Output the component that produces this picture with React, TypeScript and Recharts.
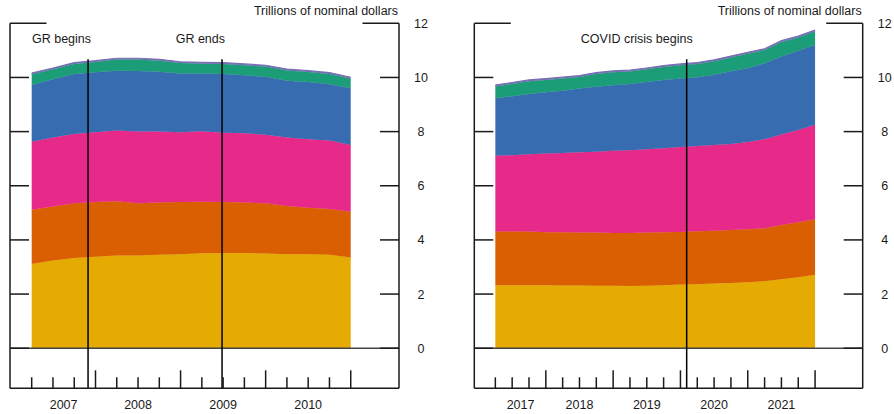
import React from 'react';
import { AreaChart, Area, XAxis, YAxis, ReferenceLine } from 'recharts';

// ---------- data ----------
const leftQuarters = [
  '2007Q1', '2007Q2', '2007Q3', '2007Q4',
  '2008Q1', '2008Q2', '2008Q3', '2008Q4',
  '2009Q1', '2009Q2', '2009Q3', '2009Q4',
  '2010Q1', '2010Q2', '2010Q3', '2010Q4',
];
const leftYellow = [3.11, 3.24, 3.33, 3.38, 3.42, 3.42, 3.45, 3.47, 3.51, 3.52, 3.52, 3.5, 3.47, 3.47, 3.45, 3.35];
const leftOrange = [2.0, 1.99, 2.02, 2.02, 2.01, 1.93, 1.93, 1.93, 1.9, 1.88, 1.86, 1.85, 1.78, 1.72, 1.69, 1.69];
const leftPink = [2.52, 2.55, 2.56, 2.58, 2.61, 2.65, 2.62, 2.58, 2.6, 2.56, 2.56, 2.53, 2.53, 2.53, 2.53, 2.47];
const leftBlue = [2.09, 2.15, 2.22, 2.21, 2.21, 2.24, 2.21, 2.17, 2.14, 2.17, 2.14, 2.15, 2.1, 2.11, 2.08, 2.09];
const leftGreen = [0.39, 0.37, 0.37, 0.38, 0.41, 0.42, 0.41, 0.38, 0.36, 0.37, 0.37, 0.37, 0.38, 0.37, 0.38, 0.35];
const leftPurple = [0.05, 0.05, 0.05, 0.05, 0.05, 0.05, 0.05, 0.05, 0.05, 0.05, 0.05, 0.05, 0.05, 0.05, 0.05, 0.05];

const rightQuarters = [
  '2017Q1', '2017Q2', '2017Q3', '2017Q4',
  '2018Q1', '2018Q2', '2018Q3', '2018Q4',
  '2019Q1', '2019Q2', '2019Q3', '2019Q4',
  '2020Q1', '2020Q2', '2020Q3', '2020Q4',
  '2021Q1', '2021Q2', '2021Q3', '2021Q4',
];
const rightYellow = [2.33, 2.33, 2.33, 2.33, 2.32, 2.32, 2.31, 2.31, 2.3, 2.31, 2.33, 2.35, 2.36, 2.39, 2.41, 2.44, 2.47, 2.55, 2.62, 2.71];
const rightOrange = [1.98, 1.98, 1.98, 1.95, 1.96, 1.95, 1.96, 1.95, 1.96, 1.96, 1.95, 1.94, 1.96, 1.95, 1.96, 1.95, 1.96, 2.0, 2.03, 2.05];
const rightPink = [2.8, 2.82, 2.85, 2.91, 2.93, 2.97, 2.99, 3.03, 3.05, 3.08, 3.11, 3.14, 3.15, 3.17, 3.17, 3.23, 3.29, 3.34, 3.41, 3.49];
const rightBlue = [2.12, 2.18, 2.23, 2.26, 2.3, 2.35, 2.4, 2.42, 2.45, 2.48, 2.52, 2.53, 2.54, 2.59, 2.69, 2.72, 2.8, 2.88, 2.93, 2.95];
const rightGreen = [0.44, 0.45, 0.47, 0.46, 0.45, 0.43, 0.47, 0.48, 0.46, 0.47, 0.48, 0.49, 0.49, 0.5, 0.51, 0.54, 0.49, 0.54, 0.49, 0.5];
const rightPurple = [0.05, 0.05, 0.05, 0.05, 0.05, 0.05, 0.05, 0.05, 0.05, 0.05, 0.05, 0.05, 0.05, 0.05, 0.05, 0.05, 0.05, 0.05, 0.05, 0.05];

// events: position in quarter-index units
const leftEvents = [
  { label: 'GR begins', x: 2.65 },
  { label: 'GR ends', x: 8.95 },
];
const rightEvents = [{ label: 'COVID crisis begins', x: 11.37 }];

const yTicks = [0, 2, 4, 6, 8, 10, 12];
const unitsLabel = 'Trillions of nominal dollars';

// ---------- styling ----------
const FONT = '"Liberation Sans", Arial, sans-serif';
const FS = 12.5;
const INK = '#1a1a1a';
const series = [
  { key: 'yellow', color: '#E6AB02' },
  { key: 'orange', color: '#D95F02' },
  { key: 'pink', color: '#E7298A' },
  { key: 'blue', color: '#386CB0' },
  { key: 'green', color: '#1B9E77' },
  { key: 'purple', color: '#7570B3' },
];
const Y_MIN = -1.48;
const Y_MAX = 12;
const EVENT_TOP = 10.67;

function buildData(quarters: string[], cols: Record<string, number[]>) {
  return quarters.map((q, i) => {
    const row: any = { i, q };
    Object.keys(cols).forEach((k) => (row[k] = cols[k][i]));
    return row;
  });
}

const leftData = buildData(leftQuarters, {
  yellow: leftYellow, orange: leftOrange, pink: leftPink,
  blue: leftBlue, green: leftGreen, purple: leftPurple,
});
const rightData = buildData(rightQuarters, {
  yellow: rightYellow, orange: rightOrange, pink: rightPink,
  blue: rightBlue, green: rightGreen, purple: rightPurple,
});

function yearCenters(quarters: string[]) {
  const years: string[] = [];
  quarters.forEach((q) => {
    const y = q.slice(0, 4);
    if (!years.includes(y)) years.push(y);
  });
  return years.map((y) => {
    const idx = quarters.map((q, i) => (q.startsWith(y) ? i : -1)).filter((i) => i >= 0);
    const a = idx[0];
    const b = idx[idx.length - 1];
    const start = a === 0 ? 0 : a - 1;
    return { year: y, pos: (start + b) / 2 };
  });
}

type PanelProps = {
  data: any[];
  quarters: string[];
  events: { label: string; x: number }[];
  left: number;
  width: number;
  box: { top: number; left: number; right: number; bottom: number };
  xDomain: [number, number];
  labelDx: number;
};

function Panel({ data, quarters, events, left, width, box, xDomain, labelDx }: PanelProps) {
  const height = 414;
  // plot box edges: box.left .. width - box.right, box.top .. height - box.bottom
  const margin = { top: box.top, left: box.left - 1, right: box.right - 1, bottom: box.bottom - 2 };
  const plotWidth = width - box.left - box.right;
  const majors = new Set(quarters.map((q, i) => (q.endsWith('Q4') ? i : -1)).filter((i) => i >= 0));
  const qTicks = quarters.map((_, i) => i);
  const years = yearCenters(quarters);
  const yearMap = new Map(years.map((y) => [y.pos, y.year]));

  const YTick = (props: any) => {
    const { x, y, payload } = props;
    const v = payload.value;
    const len = v === 12 ? 36.5 : 19;
    return (
      <g>
        <line x1={x - len} x2={x} y1={y} y2={y} stroke={INK} strokeWidth={1.5} />
        <line x1={x - plotWidth} x2={x - plotWidth + len} y1={y} y2={y} stroke={INK} strokeWidth={1.5} />
        <text x={x + 22} y={y} dy="0.36em" textAnchor="middle" fontFamily={FONT} fontSize={FS} fill={INK}>
          {v}
        </text>
      </g>
    );
  };

  const XTick = (props: any) => {
    const { x, y, payload } = props;
    const len = majors.has(payload.value) ? 18 : 11;
    return <line x1={x} x2={x} y1={y} y2={y - len} stroke={INK} strokeWidth={1.5} />;
  };

  const YearTick = (props: any) => {
    const { x, y, payload } = props;
    return (
      <text x={x} y={y} dy={20} textAnchor="middle" fontFamily={FONT} fontSize={FS} fill={INK}>
        {yearMap.get(payload.value)}
      </text>
    );
  };

  return (
    <div style={{ position: 'absolute', left, top: 0, width, height }}>
      <div
        style={{
          position: 'absolute',
          left: 0,
          top: 4,
          width: width - box.right - 1,
          textAlign: 'right',
          fontFamily: FONT,
          fontSize: FS,
          lineHeight: '15px',
          color: INK,
          whiteSpace: 'nowrap',
        }}
      >
        {unitsLabel}
      </div>
      <AreaChart width={width} height={height} data={data} margin={margin}>
        <XAxis
          xAxisId="t"
          dataKey="i"
          type="number"
          domain={xDomain}
          allowDataOverflow
          ticks={qTicks}
          interval={0}
          height={1}
          tickSize={0}
          tickMargin={0}
          tick={XTick}
          tickLine={false}
          axisLine={{ stroke: INK, strokeWidth: 1.5 }}
        />
        <XAxis
          xAxisId="y"
          dataKey="i"
          type="number"
          domain={xDomain}
          allowDataOverflow
          ticks={years.map((y) => y.pos)}
          interval={0}
          height={1}
          tickSize={0}
          tickMargin={0}
          tick={YearTick}
          tickLine={false}
          axisLine={false}
        />
        <YAxis
          yAxisId="r"
          orientation="right"
          type="number"
          domain={[Y_MIN, Y_MAX]}
          allowDataOverflow
          ticks={yTicks}
          interval={0}
          width={1}
          tickSize={0}
          tickMargin={0}
          tick={YTick}
          tickLine={false}
          axisLine={{ stroke: INK, strokeWidth: 1.5 }}
        />
        <YAxis
          yAxisId="l"
          orientation="left"
          type="number"
          domain={[Y_MIN, Y_MAX]}
          allowDataOverflow
          width={1}
          tick={false}
          tickLine={false}
          axisLine={{ stroke: INK, strokeWidth: 1.5 }}
        />
        {series.map((s) => (
          <Area
            key={s.key}
            xAxisId="t"
            yAxisId="r"
            dataKey={s.key}
            stackId="a"
            type="linear"
            fill={s.color}
            fillOpacity={1}
            stroke={s.color}
            strokeWidth={s.key === 'purple' ? 1.2 : 0.6}
            dot={false}
            activeDot={false}
            isAnimationActive={false}
          />
        ))}
        <ReferenceLine xAxisId="t" yAxisId="r" y={0} stroke="#444" strokeWidth={1.5} />
        {events.map((ev) => (
          <ReferenceLine
            key={ev.label}
            xAxisId="t"
            yAxisId="r"
            segment={[
              { x: ev.x, y: EVENT_TOP },
              { x: ev.x, y: Y_MIN },
            ]}
            stroke="#000"
            strokeWidth={1.5}
            label={(p: any) => {
              const vb = p.viewBox || {};
              return (
                <text
                  x={vb.x + labelDx}
                  y={vb.y - 16}
                  textAnchor="end"
                  fontFamily={FONT}
                  fontSize={FS}
                  fill={INK}
                >
                  {ev.label}
                </text>
              );
            }}
          />
        ))}
      </AreaChart>
    </div>
  );
}

export default function App() {
  return (
    <div style={{ position: 'absolute', left: 0, top: 0, width: 894, height: 414, background: '#fff' }}>
      <Panel
        data={leftData}
        quarters={leftQuarters}
        events={leftEvents}
        left={0}
        width={447}
        box={{ top: 23.3, left: 10, right: 48, bottom: 25.7 }}
        xDomain={[-1.02, 17.27]}
        labelDx={3}
      />
      <Panel
        data={rightData}
        quarters={rightQuarters}
        events={rightEvents}
        left={447}
        width={447}
        box={{ top: 23.3, left: 27.3, right: 31.3, bottom: 25.7 }}
        xDomain={[-1.25, 21.83]}
        labelDx={6}
      />
    </div>
  );
}
